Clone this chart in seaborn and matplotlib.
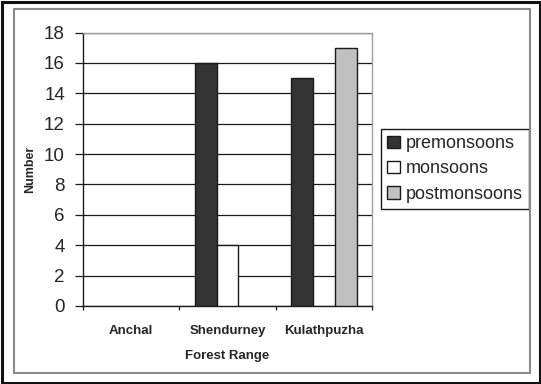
import matplotlib
matplotlib.use("Agg")
import matplotlib.pyplot as plt
from matplotlib.patches import Rectangle, Patch
import pandas as pd
import seaborn as sns

# Counts per forest range and season
ranges = ["Anchal", "Shendurney", "Kulathpuzha"]
seasons = ["premonsoons", "monsoons", "postmonsoons"]
premonsoons = [0, 16, 15]
monsoons = [0, 4, 0]
postmonsoons = [0, 0, 17]
y_ticks = [0, 2, 4, 6, 8, 10, 12, 14, 16, 18]

df = pd.DataFrame({
    "Forest Range": ranges * 3,
    "Season": [s for s in seasons for _ in ranges],
    "Number": premonsoons + monsoons + postmonsoons,
})

sns.set_theme(style="white")
plt.rcParams["font.family"] = ["Liberation Sans", "DejaVu Sans"]

W, H = 541, 384
fig = plt.figure(figsize=(W / 100, H / 100), dpi=100)
fig.patch.set_facecolor("white")

# plot area in pixel coordinates
left, right, top, bottom = 83, 372, 32.5, 306
ax = fig.add_axes([left / W, 1 - bottom / H, (right - left) / W, (bottom - top) / H])

palette = {"premonsoons": "#333333", "monsoons": "#ffffff", "postmonsoons": "#c0c0c0"}
edge = "#1a1a1a"
sns.barplot(data=df, x="Forest Range", y="Number", hue="Season", hue_order=seasons,
            order=ranges, palette=palette, width=0.68, edgecolor=edge,
            linewidth=1.0, saturation=1, ax=ax, zorder=3, legend=False)

# empty bars leave no outline on the baseline
for bar in ax.patches:
    if bar.get_height() == 0:
        bar.set_linewidth(0)

ax.set_ylim(0, 18)
ax.set_xlim(-0.5, 2.5)
ax.set_yticks(y_ticks)
ax.set_yticklabels([str(t) for t in y_ticks], fontsize=13.5)
ax.yaxis.grid(True, color=edge, linewidth=0.9)
ax.set_axisbelow(True)

ax.tick_params(axis="y", left=True, length=6, width=0.9, color=edge, pad=7)
ax.tick_params(axis="x", which="major", length=0, pad=14)
ax.set_xticks([-0.5, 0.5, 1.5, 2.5], minor=True)
ax.tick_params(axis="x", which="minor", bottom=True, length=3, width=0.9, color=edge)
for lab in ax.get_xticklabels():
    lab.set_fontsize(9.5)
    lab.set_fontweight("bold")

ax.set_xlabel("Forest Range", fontsize=9.5, fontweight="bold", labelpad=9)
ax.set_ylabel("Number", fontsize=9, fontweight="bold", labelpad=6)

for s in ["left", "bottom"]:
    ax.spines[s].set_color(edge)
    ax.spines[s].set_linewidth(1.0)
for s in ["top", "right"]:
    ax.spines[s].set_color("#a0a0a0")
    ax.spines[s].set_linewidth(1.0)

handles = [Patch(facecolor=palette[s], edgecolor=edge, linewidth=1.0, label=s)
           for s in seasons]
leg = ax.legend(handles=handles, loc="upper left",
                bbox_to_anchor=(381 / W, 1 - 129 / H),
                bbox_transform=fig.transFigure, borderaxespad=0,
                fontsize=13, frameon=True, fancybox=False, framealpha=1,
                edgecolor=edge, handlelength=0.7, handleheight=0.7,
                handletextpad=0.3, labelspacing=0.45, borderpad=0.35)
leg.get_frame().set_linewidth(1.0)

# outer frame and inner chart-area border
fig.patches.append(Rectangle((1.5 / W, 1.5 / H), (W - 3) / W, (H - 3) / H,
                             transform=fig.transFigure, fill=False,
                             edgecolor="#111111", linewidth=2.2))
fig.patches.append(Rectangle((14 / W, 1 - 373 / H), (530 - 14) / W, (373 - 9) / H,
                             transform=fig.transFigure, fill=False,
                             edgecolor="#8a8a8a", linewidth=1.5))

fig.savefig("out.png", dpi=100)
